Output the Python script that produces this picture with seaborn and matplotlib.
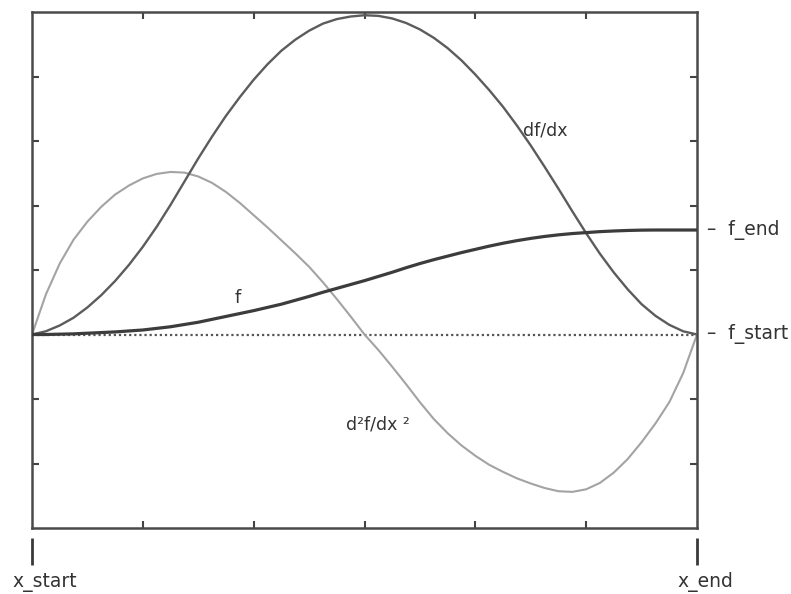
import matplotlib
matplotlib.use("Agg")
import matplotlib.pyplot as plt
import seaborn as sns
import pandas as pd

# ---- data ----
x_pos = [0.0, 0.125, 0.25, 0.375, 0.5, 0.625, 0.75, 0.875,
         1.0, 1.125, 1.25, 1.375, 1.5, 1.625, 1.75, 1.875,
         2.0, 2.125, 2.25, 2.375, 2.5, 2.625, 2.75, 2.875,
         3.0, 3.125, 3.25, 3.375, 3.5, 3.625, 3.75, 3.875,
         4.0, 4.125, 4.25, 4.375, 4.5, 4.625, 4.75, 4.875,
         5.0, 5.125, 5.25, 5.375, 5.5, 5.625, 5.75, 5.875, 6.0]
f_vals = [0.0, 0.0, 0.005, 0.01, 0.02, 0.03, 0.04, 0.055,
          0.07, 0.095, 0.12, 0.155, 0.19, 0.235, 0.28, 0.325,
          0.37, 0.42, 0.47, 0.53, 0.59, 0.655, 0.715, 0.775,
          0.835, 0.90, 0.965, 1.035, 1.10, 1.16, 1.215, 1.27,
          1.32, 1.37, 1.415, 1.455, 1.49, 1.52, 1.545, 1.565,
          1.58, 1.595, 1.605, 1.613, 1.618, 1.62, 1.62, 1.62, 1.62]
dfdx_vals = [0.0, 0.05, 0.14, 0.26, 0.42, 0.61, 0.83, 1.08,
             1.36, 1.67, 2.01, 2.37, 2.73, 3.07, 3.39, 3.68,
             3.95, 4.19, 4.40, 4.57, 4.71, 4.82, 4.89, 4.93,
             4.95, 4.94, 4.90, 4.83, 4.73, 4.60, 4.44, 4.25,
             4.03, 3.79, 3.53, 3.24, 2.93, 2.60, 2.26, 1.91,
             1.57, 1.25, 0.96, 0.70, 0.47, 0.29, 0.15, 0.05, 0.0]
d2fdx2_vals = [0.0, 0.62, 1.10, 1.47, 1.75, 1.98, 2.17, 2.31,
               2.42, 2.49, 2.52, 2.51, 2.45, 2.35, 2.21, 2.04,
               1.85, 1.66, 1.46, 1.26, 1.05, 0.81, 0.55, 0.28,
               0.0, -0.24, -0.50, -0.77, -1.05, -1.31, -1.53, -1.72,
               -1.88, -2.02, -2.13, -2.23, -2.31, -2.38, -2.43, -2.44,
               -2.40, -2.30, -2.14, -1.93, -1.67, -1.38, -1.05, -0.60, 0.0]
x_tick_pos = [1, 2, 3, 4, 5]
y_tick_pos = [-2, -1, 1, 2, 3, 4]
curve_labels = ["f", "df/dx", "d\u00b2f/dx \u00b2"]
edge_labels = ["x_start", "x_end"]
level_labels = ["f_start", "f_end"]

sns.set_style("white")
plt.rcParams["font.family"] = ["DejaVu Sans"]

fig = plt.figure(figsize=(7.91, 5.94), dpi=100)
ax = fig.add_axes([32 / 791, 1 - 528 / 594, 665 / 791, 516 / 594])

data = pd.DataFrame({"x": x_pos, "f": f_vals, "dfdx": dfdx_vals, "d2f": d2fdx2_vals})

# dotted f_start level
ax.axhline(f_vals[0], color="#555555", lw=1.6, ls=(0, (1, 1.3)), zorder=1)

sns.lineplot(data=data, x="x", y="d2f", ax=ax, color="#a3a3a3", lw=1.5, estimator=None, zorder=2)
sns.lineplot(data=data, x="x", y="dfdx", ax=ax, color="#5c5c5c", lw=1.7, estimator=None, zorder=3)
sns.lineplot(data=data, x="x", y="f", ax=ax, color="#3c3c3c", lw=2.3, estimator=None, zorder=4)

ax.set_xlim(x_pos[0], x_pos[-1])
ax.set_ylim(-3, 5)
ax.set_xticks(x_tick_pos)
ax.set_yticks(y_tick_pos)
ax.set_xlabel("")
ax.set_ylabel("")
ax.tick_params(direction="in", length=5, width=1.5, color="#444444",
               top=True, right=True, bottom=True, left=True,
               labelbottom=False, labelleft=False)
for s in ax.spines.values():
    s.set_color("#4a4a4a")
    s.set_linewidth(1.8)

txt_col = "#333333"
# curve labels
ax.text(1.86, 0.56, curve_labels[0], fontsize=13, color=txt_col, ha="center", va="center")
ax.text(4.63, 3.16, curve_labels[1], fontsize=12.5, color=txt_col, ha="center", va="center")
ax.text(3.12, -1.40, curve_labels[2], fontsize=12.5, color=txt_col, ha="center", va="center")

# x_start / x_end markers below the frame
xt = ax.get_xaxis_transform()
for xv in (x_pos[0], x_pos[-1]):
    ax.plot([xv, xv], [-0.019, -0.072], transform=xt, color="#3a3a3a", lw=2.0,
            clip_on=False, solid_capstyle="butt")
ax.annotate(edge_labels[0], xy=(x_pos[0], 0), xycoords=xt, xytext=(9.5, -39),
            textcoords="offset points", ha="center", va="center", fontsize=13.5, color=txt_col)
ax.annotate(edge_labels[1], xy=(x_pos[-1], 0), xycoords=xt, xytext=(6, -39),
            textcoords="offset points", ha="center", va="center", fontsize=13.5, color=txt_col)

# f_start / f_end level labels at the right
for yv, lab in ((f_vals[0], level_labels[0]), (f_vals[-1], level_labels[1])):
    ax.annotate("\u2013  " + lab, xy=(x_pos[-1], yv), xycoords="data", xytext=(7.5, 0),
                textcoords="offset points", ha="left", va="center", fontsize=13.5,
                color=txt_col, annotation_clip=False)

fig.savefig("out.png", dpi=100, facecolor="white")
